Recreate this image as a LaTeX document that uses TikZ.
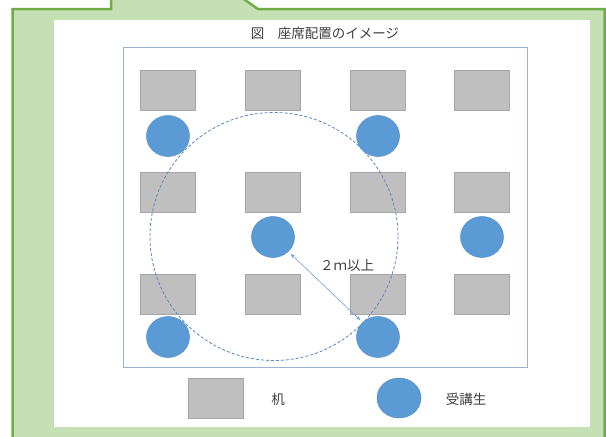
\documentclass[tikz,border=0pt]{standalone}
\usepackage{fontspec}
\newfontfamily\jp{Noto Sans CJK JP}
\usetikzlibrary{arrows.meta,shapes.geometric}
\definecolor{gfill}{RGB}{197,224,180}
\definecolor{gline}{RGB}{112,173,71}
\definecolor{deskfill}{RGB}{191,191,191}
\definecolor{deskline}{RGB}{165,165,165}
\definecolor{stufill}{RGB}{91,155,213}
\definecolor{stuline}{RGB}{85,140,200}
\definecolor{framecol}{RGB}{152,180,212}
\definecolor{dashcol}{RGB}{85,135,195}
\definecolor{arrcol}{RGB}{110,165,220}
\definecolor{txt}{RGB}{64,64,64}
\begin{document}
\begin{tikzpicture}[x=1pt,y=-1pt,
  desk/.style={draw=deskline,fill=deskfill,line width=0.8pt,minimum width=55pt,minimum height=40pt,inner sep=0pt},
  stu/.style={draw=stuline,fill=stufill,line width=0.5pt,ellipse,minimum width=43pt,minimum height=41pt,inner sep=0pt},
  lbl/.style={font=\jp\fontsize{13.5pt}{15pt}\selectfont,text=txt,inner sep=0pt}]
\useasboundingbox (0,0) rectangle (606,437);
\clip (0,0) rectangle (606,437);
% green callout
\draw[fill=gfill,draw=gline,line width=2.5pt] (12.5,460) -- (12.5,9) -- (111,9) -- (111,-5) -- (238,-5) -- (258,9) -- (604.5,9) -- (604.5,460) -- cycle;
\fill[white] (54,20) rectangle (590,427);
% frame
\draw[framecol,line width=1pt] (123,47) rectangle (527,367);
\node[lbl] (title) at (325,33) {図　座席配置のイメージ};
% desks
\foreach \c/\x in {1/168,2/273,3/378,4/482}{
  \foreach \r/\y in {1/90.5,2/192.5,3/294.5}{
    \node[desk] (d\r\c) at (\x,\y) {};
  }
}
% dashed circle
\draw[dashcol,line width=0.8pt,dash pattern=on 3pt off 2pt] (274,236.5) circle (124);
% students
\node[stu] (s11) at (168,136) {};
\node[stu] (s13) at (378,136) {};
\node[stu] (s22) at (273,237) {};
\node[stu] (s24) at (482,237) {};
\node[stu] (s31) at (168,337) {};
\node[stu] (s33) at (378,337) {};
% arrow
\draw[arrcol,line width=0.6pt,{Stealth[length=5pt,width=3.5pt]}-{Stealth[length=5pt,width=3.5pt]},shorten <=3pt,shorten >=3pt] (s22) -- (s33);
\node[lbl] (dist) at (347,265) {２ｍ以上};
% legend
\node[desk] (ldesk) at (216,398) {};
\node[lbl] (ldesktxt) at (278,399) {机};
\node[stu,minimum width=44pt,minimum height=40pt] (lstu) at (399,398) {};
\node[lbl] (lstutxt) at (466,399) {受講生};
\end{tikzpicture}
\end{document}
